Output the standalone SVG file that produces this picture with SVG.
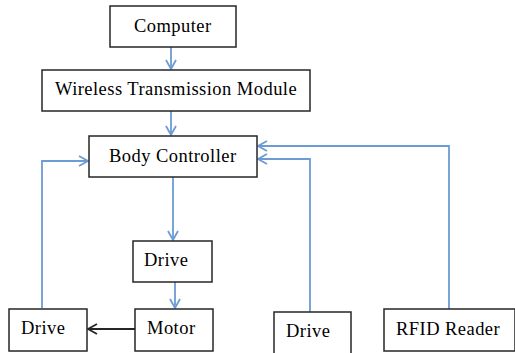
<svg xmlns="http://www.w3.org/2000/svg" width="515" height="353" viewBox="0 0 515 353">
<style>
.box{fill:#fff;stroke:#262626;stroke-width:1.5}
.t{font-family:"Liberation Serif","Times New Roman",serif;font-size:18.5px;letter-spacing:0.45px;fill:#000}
.c{fill:none;stroke:#6d9bd3;stroke-width:1.8}
.k{fill:none;stroke:#262626;stroke-width:1.8}
</style>
<defs>
<marker id="ab" markerWidth="12" markerHeight="12" refX="10" refY="6" orient="auto" markerUnits="userSpaceOnUse">
<path d="M1,1 L10,6 L1,11" fill="none" stroke="#6d9bd3" stroke-width="1.8"/>
</marker>
<marker id="ak" markerWidth="12" markerHeight="12" refX="10" refY="6" orient="auto" markerUnits="userSpaceOnUse">
<path d="M1,1 L10,6 L1,11" fill="none" stroke="#262626" stroke-width="1.8"/>
</marker>
</defs>
<g id="connectors">
<path class="c" d="M171,47 V69" marker-end="url(#ab)"/>
<path class="c" d="M171,111 V135" marker-end="url(#ab)"/>
<path class="c" d="M173,177 V240" marker-end="url(#ab)"/>
<path class="c" d="M175,282 V308" marker-end="url(#ab)"/>
<path class="c" d="M42,308 V161 H88" marker-end="url(#ab)"/>
<path class="c" d="M310,312 V159 H258" marker-end="url(#ab)"/>
<path class="c" d="M449,309 V146 H258" marker-end="url(#ab)"/>
<path class="k" d="M135,329 H88" marker-end="url(#ak)"/>
</g>
<g id="computer"><rect class="box" x="110" y="6" width="126" height="41"/><text class="t" x="134" y="32">Computer</text></g>
<g id="wireless"><rect class="box" x="42" y="70" width="268" height="41"/><text class="t" x="55" y="95">Wireless Transmission Module</text></g>
<g id="body"><rect class="box" x="89" y="136" width="168" height="41"/><text class="t" x="109" y="162">Body Controller</text></g>
<g id="drive-mid"><rect class="box" x="133" y="241" width="79" height="41"/><text class="t" x="144" y="266">Drive</text></g>
<g id="motor"><rect class="box" x="135" y="309" width="78" height="42"/><text class="t" x="147" y="334">Motor</text></g>
<g id="drive-left"><rect class="box" x="9" y="309" width="78" height="42"/><text class="t" x="21" y="334">Drive</text></g>
<g id="drive-right"><rect class="box" x="274" y="312" width="77" height="42"/><text class="t" x="286" y="337">Drive</text></g>
<g id="rfid"><rect class="box" x="384" y="309" width="131" height="42"/><text class="t" x="396" y="335">RFID Reader</text></g>
</svg>
